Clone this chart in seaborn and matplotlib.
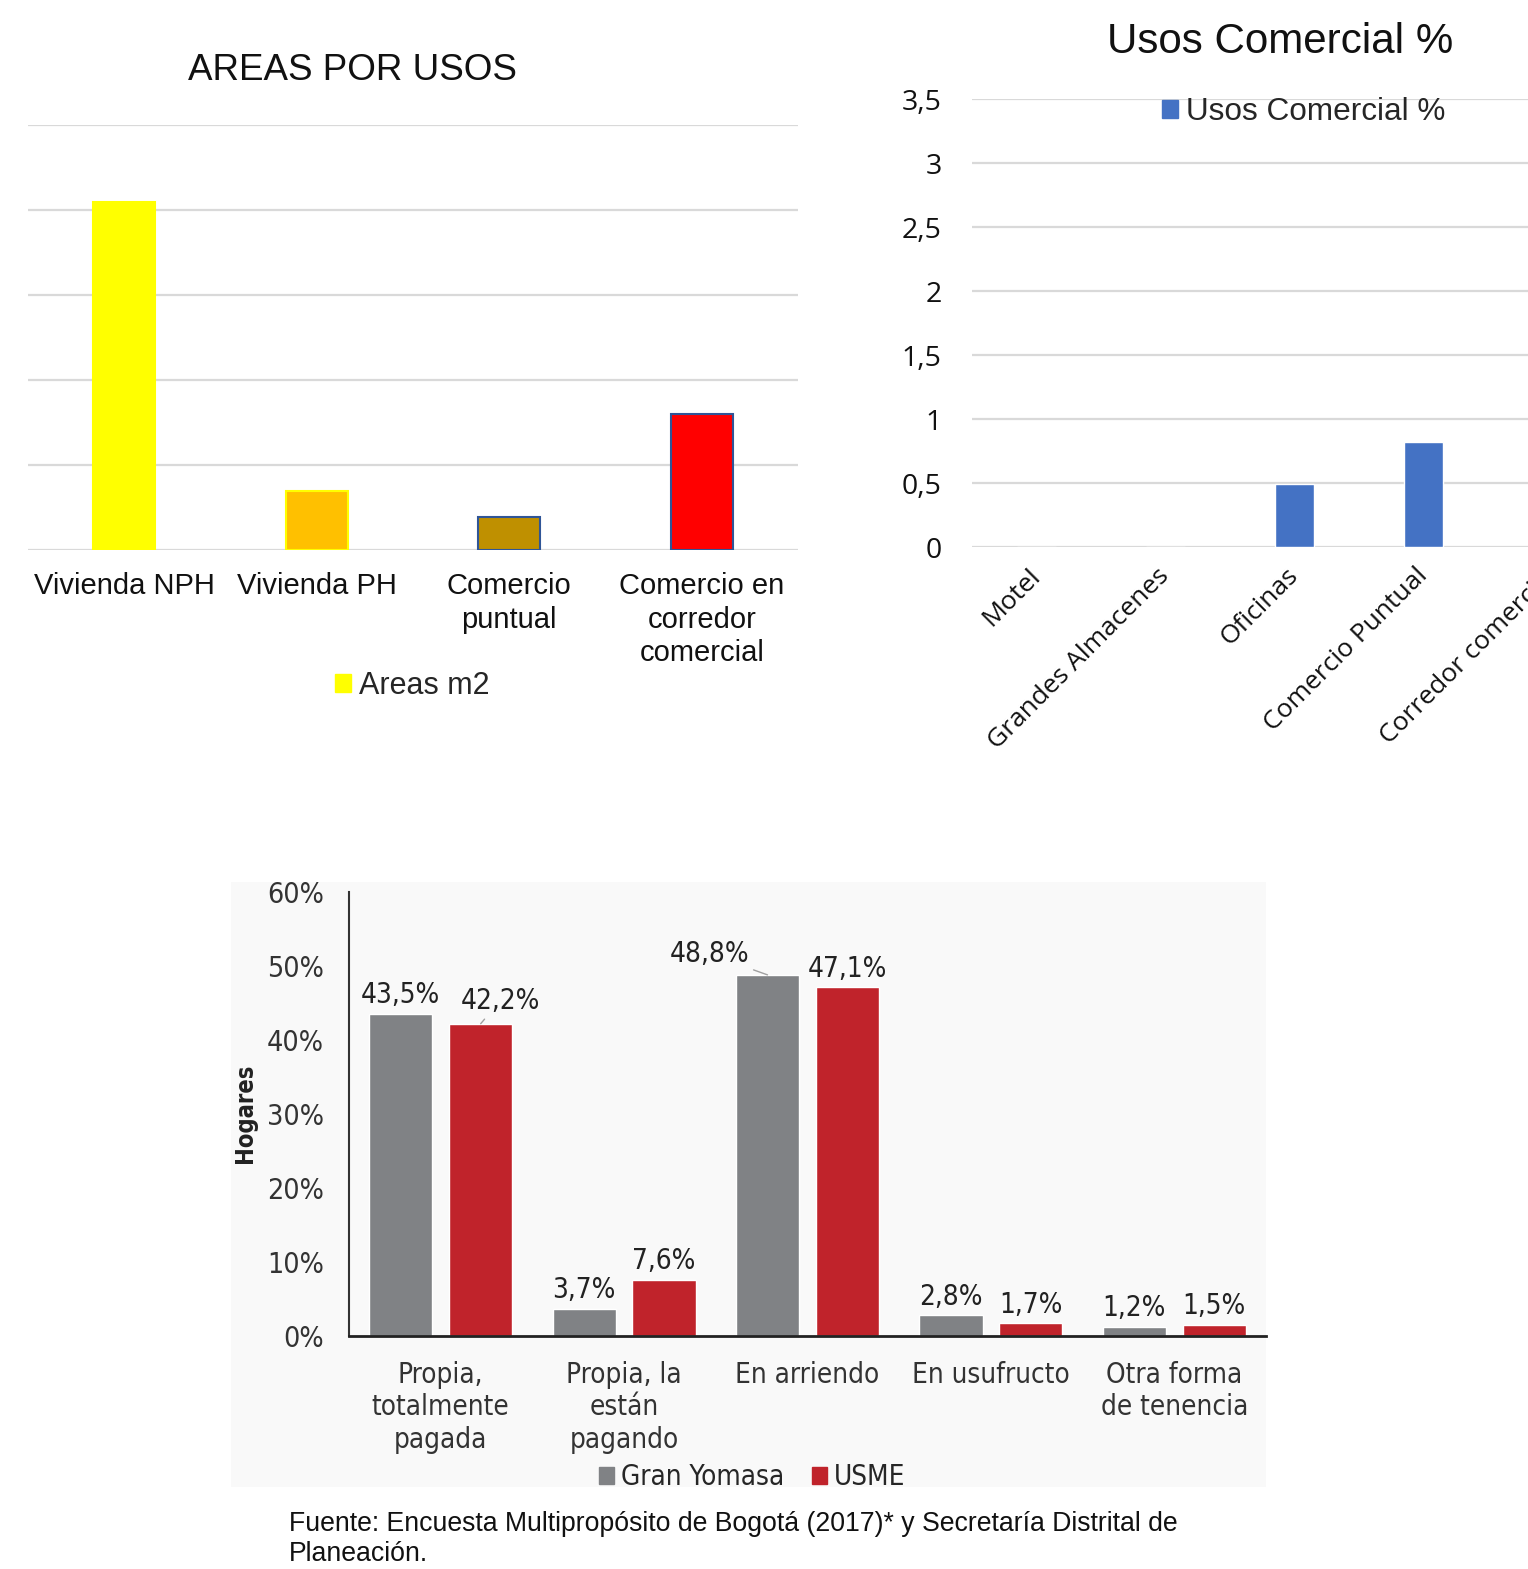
import numpy as np
import pandas as pd
import matplotlib
matplotlib.use("Agg")
import matplotlib.pyplot as plt
from matplotlib.patches import Patch, Rectangle
import seaborn as sns

# chart 1: areas por usos (no y values printed, read in gridline units)
areas_cats = ["Vivienda NPH", "Vivienda PH", "Comercio\npuntual", "Comercio en\ncorredor\ncomercial"]
areas_vals = [4.09, 0.69, 0.39, 1.60]
areas_colors = ["#FFFF00", "#FFC000", "#BF9000", "#FF0000"]
areas_edges = ["#FFFF00", "#FFFF00", "#2F5597", "#2F5597"]

# chart 2: usos comercial %
usos_cats = ["Motel", "Grandes Almacenes", "Oficinas", "Comercio Puntual", "Corredor comercial"]
usos_vals = [0, 0, 0.49, 0.82, 0]
usos_ticks = [0, 0.5, 1, 1.5, 2, 2.5, 3, 3.5]

# chart 3: tenencia de vivienda
tenencia_cats = ["Propia,\ntotalmente\npagada", "Propia, la\nestán\npagando", "En arriendo",
                 "En usufructo", "Otra forma\nde tenencia"]
gran_yomasa = [43.5, 3.7, 48.8, 2.8, 1.2]
usme = [42.2, 7.6, 47.1, 1.7, 1.5]
zonas = ["Gran Yomasa", "USME"]
pct_ticks = [0, 10, 20, 30, 40, 50, 60]

W, H = 1528, 1569


def fig_rect(x0, y0, x1, y1):
    # pixel box (top-left origin) -> figure fraction rect
    return [x0 / W, 1 - y1 / H, (x1 - x0) / W, (y1 - y0) / H]


def comma(v):
    return f"{v:g}".replace(".", ",")


sns.set_style("white")
plt.rcParams["font.family"] = ["Liberation Sans", "DejaVu Sans"]

fig = plt.figure(figsize=(W / 100, H / 100), dpi=100)

# ---------------- AREAS POR USOS ----------------
ax1 = fig.add_axes(fig_rect(28, 125, 798, 550))
sns.barplot(x=areas_cats, y=areas_vals, hue=areas_cats, palette=areas_colors,
            width=0.32, legend=False, ax=ax1, saturation=1)
for p, ec in zip(ax1.patches, areas_edges):
    p.set_edgecolor(ec)
    p.set_linewidth(1.5)
ax1.set_ylim(0, 5)
ax1.set_xlim(-0.5, 3.5)
ax1.set_yticks(range(6))
ax1.yaxis.grid(True, color="#d9d9d9", lw=1.6)
ax1.set_axisbelow(True)
ax1.tick_params(axis="y", length=0, labelleft=False)
ax1.tick_params(axis="x", length=0, pad=16, labelsize=21, labelcolor="#111111")
for lbl in ax1.get_xticklabels():
    lbl.set_linespacing(1.25)
sns.despine(ax=ax1, left=True, bottom=True)
ax1.set_xlabel("")
ax1.set_ylabel("")
fig.text(352 / W, 1 - 70 / H, "AREAS POR USOS", ha="center", va="center", fontsize=26.5, color="#111111")
ax1.legend(handles=[Patch(color="#FFFF00", label="Areas m2")], loc="center",
           bbox_to_anchor=(412 / W, 1 - 686 / H), bbox_transform=fig.transFigure,
           frameon=False, fontsize=22, handlelength=0.55, handleheight=0.55, handletextpad=0.25)

# ---------------- Usos Comercial % ----------------
ax2 = fig.add_axes(fig_rect(972, 99, 1617, 547))
sns.barplot(x=usos_cats, y=usos_vals, color="#4472C4", saturation=1, width=0.31, ax=ax2)
ax2.set_ylim(0, 3.5)
ax2.set_xlim(-0.5, 4.5)
ax2.set_yticks(usos_ticks)
ax2.set_yticklabels([comma(t) for t in usos_ticks], fontfamily="Open Sans", fontsize=20.5)
ax2.yaxis.grid(True, color="#d9d9d9", lw=1.6)
ax2.set_axisbelow(True)
ax2.tick_params(axis="y", length=0, pad=22, labelcolor="#111111")
ax2.tick_params(axis="x", length=0, pad=18)
ax2.set_xticks(range(len(usos_cats)))
ax2.set_xticklabels(usos_cats, rotation=45, ha="right", va="center", rotation_mode="anchor",
                    fontfamily="Open Sans", fontsize=19, color="#111111")
sns.despine(ax=ax2, left=True, bottom=True)
ax2.set_xlabel("")
ax2.set_ylabel("")
fig.text(1280 / W, 1 - 42 / H, "Usos Comercial %", ha="center", va="center", fontsize=30.3, color="#111111")
ax2.legend(handles=[Patch(color="#4472C4", label="Usos Comercial %")], loc="center",
           bbox_to_anchor=(1304 / W, 1 - 112 / H), bbox_transform=fig.transFigure,
           frameon=False, fontsize=22.7, handlelength=0.5, handleheight=0.5, handletextpad=0.25)

# ---------------- Tenencia ----------------
fig.add_artist(Rectangle((231 / W, 1 - 1487 / H), (1266 - 231) / W, (1487 - 882) / H,
                         transform=fig.transFigure, facecolor="#f9f9f9", edgecolor="none", zorder=0))

df = pd.DataFrame({
    "tenencia": tenencia_cats * 2,
    "pct": gran_yomasa + usme,
    "zona": [zonas[0]] * len(tenencia_cats) + [zonas[1]] * len(tenencia_cats),
})
bar_colors = ["#808285", "#C0232B"]
cond = dict(fontfamily="DejaVu Sans", fontstretch="condensed")

ax3 = fig.add_axes(fig_rect(349, 892, 1266, 1336))
ax3.set_facecolor("none")
sns.barplot(data=df, x="tenencia", y="pct", hue="zona", palette=bar_colors, saturation=1,
            width=0.872, gap=0.21, legend=False, ax=ax3)
ax3.set_ylim(0, 60)
ax3.set_xlim(-0.5, 4.5)
ax3.set_yticks(pct_ticks)
ax3.set_yticklabels([f"{t}%" for t in pct_ticks], fontsize=20.5, color="#333333", **cond)
ax3.set_xticks(range(len(tenencia_cats)))
ax3.set_xticklabels(tenencia_cats, fontsize=20, color="#333333", linespacing=1.2, **cond)
ax3.tick_params(axis="y", length=0, pad=18)
ax3.tick_params(axis="x", length=0, pad=18)
for s in ["top", "right"]:
    ax3.spines[s].set_visible(False)
ax3.spines["left"].set_color("#333333")
ax3.spines["left"].set_linewidth(1.5)
ax3.spines["bottom"].set_color("#222222")
ax3.spines["bottom"].set_linewidth(2)
ax3.set_xlabel("")
ax3.set_ylabel("")

# label offsets (points) for the few labels that are moved off their bar
label_shift = {(0, 2): (-42, 15), (1, 0): (14, 16.5)}
for h, (cont, vals) in enumerate(zip(ax3.containers, [gran_yomasa, usme])):
    for i, (bar, v) in enumerate(zip(cont, vals)):
        cx = bar.get_x() + bar.get_width() / 2
        dx, dy = label_shift.get((h, i), (0, 13.5))
        arrow = dict(arrowstyle="-", color="#a0a0a0", lw=1, shrinkA=1, shrinkB=0) if (h, i) in label_shift else None
        ax3.annotate(f"{comma(v)}%", xy=(cx, v), xytext=(dx, dy), textcoords="offset points",
                     ha="center", va="center", fontsize=20, color="#222222",
                     arrowprops=arrow, **cond)

fig.text(245 / W, 1 - 1113 / H, "Hogares", rotation=90, ha="center", va="center",
         fontsize=17, color="#222222", fontweight="bold", **cond)
ax3.legend(handles=[Patch(color=c, label=z) for c, z in zip(bar_colors, zonas)], loc="center",
           bbox_to_anchor=(752 / W, 1 - 1477 / H), bbox_transform=fig.transFigure, ncols=2,
           frameon=False, handlelength=0.55, handleheight=0.55, handletextpad=0.25,
           columnspacing=1.0, prop=dict(family="DejaVu Sans", stretch="condensed", size=20))

fig.text(289 / W, 1 - 1539 / H,
         "Fuente: Encuesta Multipropósito de Bogotá (2017)* y Secretaría Distrital de\nPlaneación.",
         ha="left", va="center", fontsize=19.2, color="#111111", linespacing=1.18)

fig.savefig("out.png", dpi=100)
